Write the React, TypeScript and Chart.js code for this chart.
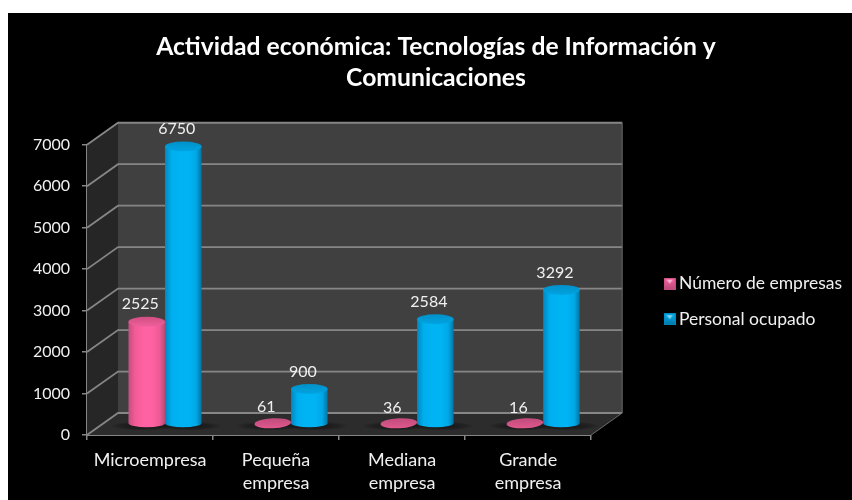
import React, { useEffect, useRef } from "react";
import { Chart, registerables, BarController, BarElement } from "chart.js";

const categories: (string | string[])[] = ["Microempresa", ["Pequeña", "empresa"], ["Mediana", "empresa"], ["Grande", "empresa"]];
const seriesNames = ["Número de empresas", "Personal ocupado"];
const empresas = [2525, 61, 36, 16];
const personal = [6750, 900, 2584, 3292];
const PINK = "#ff5f9e";
const BLUE = "#00b0f0";
const FONT = "Lato";

// Depth of the pseudo-3D box, in pixels
const WALL_DX = 31;
const WALL_DY = -22;
const BAR_DX = 15;
const BAR_DY = -8.6;

const shades: Record<string, { body: string[]; cap: string[]; disc: string[] }> = {
  [PINK]: {
    body: ["#c24e7e", "#f25b96", "#ff62a2", "#ff62a2", "#ee5a94", "#b84a78"],
    cap: ["#d04e82", "#f0609a"],
    disc: ["#c04c7c", "#e0588e"],
  },
  [BLUE]: {
    body: ["#0088c0", "#00aeee", "#00b4f4", "#00b4f4", "#00a8e6", "#0074a4"],
    cap: ["#0090c8", "#00a4e2"],
    disc: ["#0090c8", "#00a4e2"],
  },
};

class CylinderElement extends BarElement {
  static id = "cylinder";
  draw(ctx: CanvasRenderingContext2D) {
    const { x, y, base, width } = (this as any).getProps(["x", "y", "base", "width"], true);
    const pal = shades[(this as any).options.backgroundColor] || shades[BLUE];
    const cx = x + BAR_DX;
    const rx = width / 2;
    const ry = 5;
    const bottom = base + BAR_DY - 2.4;
    const top = Math.min(y + BAR_DY, bottom);
    ctx.save();
    const flat = bottom - top < 3;
    if (!flat) {
      const g = ctx.createLinearGradient(cx - rx, 0, cx + rx, 0);
      [0, 0.18, 0.42, 0.65, 0.85, 1].forEach((s, i) => g.addColorStop(s, pal.body[i]));
      ctx.fillStyle = g;
      ctx.beginPath();
      ctx.moveTo(cx - rx, top);
      ctx.lineTo(cx - rx, bottom);
      ctx.ellipse(cx, bottom, rx, 4, 0, Math.PI, 0, true);
      ctx.lineTo(cx + rx, top);
      ctx.closePath();
      ctx.fill();
    }
    const stops = flat ? pal.disc : pal.cap;
    const cg = ctx.createLinearGradient(0, top - ry, 0, top + ry);
    cg.addColorStop(0, stops[0]);
    cg.addColorStop(1, stops[1]);
    ctx.fillStyle = cg;
    ctx.beginPath();
    ctx.ellipse(cx, top, rx, ry, flat ? -0.05 : 0, 0, Math.PI * 2);
    ctx.fill();
    ctx.restore();
  }
}

class CylinderController extends BarController {
  static id = "cylinderBar";
  static defaults = { ...(BarController as any).defaults, dataElementType: "cylinder" };
}

Chart.register(...registerables, CylinderElement as any, CylinderController as any);

const box3d = {
  id: "box3d",
  afterLayout(chart: any) {
    // the legend sits lower than the centre of the canvas in the reference
    const l = chart.legend;
    l.top += 45;
    l.bottom += 45;
  },
  beforeDatasetsDraw(chart: any) {
    const { ctx, chartArea: a, scales } = chart;
    const line = "#868686";
    const y0 = scales.y.getPixelForValue(0);
    const yTop = scales.y.getPixelForValue(7000);
    ctx.save();
    // back wall
    ctx.fillStyle = "#404040";
    ctx.fillRect(a.left + WALL_DX, yTop + WALL_DY, a.right - a.left, y0 - yTop);
    // side wall
    ctx.fillStyle = "#262626";
    ctx.beginPath();
    ctx.moveTo(a.left, yTop);
    ctx.lineTo(a.left + WALL_DX, yTop + WALL_DY);
    ctx.lineTo(a.left + WALL_DX, y0 + WALL_DY);
    ctx.lineTo(a.left, y0);
    ctx.closePath();
    ctx.fill();
    // floor
    ctx.fillStyle = "#2c2c2c";
    ctx.beginPath();
    ctx.moveTo(a.left, y0);
    ctx.lineTo(a.right, y0);
    ctx.lineTo(a.right + WALL_DX, y0 + WALL_DY);
    ctx.lineTo(a.left + WALL_DX, y0 + WALL_DY);
    ctx.closePath();
    ctx.fill();
    // gridlines
    ctx.strokeStyle = line;
    ctx.lineWidth = 1.8;
    scales.y.ticks.forEach((t: any) => {
      const py = scales.y.getPixelForValue(t.value);
      ctx.beginPath();
      ctx.moveTo(a.left, py);
      ctx.lineTo(a.left + WALL_DX, py + WALL_DY);
      ctx.lineTo(a.right + WALL_DX, py + WALL_DY);
      ctx.stroke();
    });
    ctx.lineWidth = 1;
    ctx.strokeStyle = "#6a6a6a";
    ctx.beginPath();
    ctx.moveTo(a.right + WALL_DX, yTop + WALL_DY);
    ctx.lineTo(a.right + WALL_DX, y0 + WALL_DY);
    ctx.lineTo(a.right, y0);
    ctx.stroke();
    // soft shadows on the floor
    chart.data.datasets.forEach((_: any, di: number) => {
      chart.getDatasetMeta(di).data.forEach((el: any) => {
        const cx = el.x + BAR_DX + (di === 0 ? -4 : 6);
        const cy = y0 - 9;
        const rx = el.width * 0.9;
        ctx.save();
        ctx.translate(cx, cy);
        ctx.scale(1, 0.14);
        const g = ctx.createRadialGradient(0, 0, 0, 0, 0, rx);
        g.addColorStop(0, "rgba(0,0,0,0.5)");
        g.addColorStop(0.65, "rgba(0,0,0,0.28)");
        g.addColorStop(1, "rgba(0,0,0,0)");
        ctx.fillStyle = g;
        ctx.beginPath();
        ctx.arc(0, 0, rx, 0, Math.PI * 2);
        ctx.fill();
        ctx.restore();
      });
    });
    ctx.restore();
  },
  afterDatasetsDraw(chart: any) {
    const { ctx } = chart;
    ctx.save();
    ctx.font = `16px ${FONT}`;
    ctx.fillStyle = "#f0f0f0";
    ctx.textAlign = "center";
    ctx.textBaseline = "middle";
    chart.data.datasets.forEach((ds: any, di: number) => {
      chart.getDatasetMeta(di).data.forEach((el: any, i: number) => {
        ctx.fillText(String(ds.data[i]), el.x + BAR_DX - 6.5, el.y + BAR_DY - 17.5);
      });
    });
    ctx.restore();
  },
};

function marker(color: string) {
  const c = document.createElement("canvas");
  c.width = 12;
  c.height = 12;
  const x = c.getContext("2d")!;
  const pal = shades[color];
  x.fillStyle = pal.body[0];
  x.fillRect(0, 0, 12, 12);
  const g = x.createLinearGradient(0, 0, 0, 12);
  g.addColorStop(0, pal.body[2]);
  g.addColorStop(1, pal.body[5]);
  x.fillStyle = g;
  x.fillRect(1, 1, 10, 10);
  x.fillStyle = "rgba(255,255,255,0.55)";
  x.beginPath();
  x.moveTo(3, 2);
  x.lineTo(9, 2);
  x.lineTo(6, 6);
  x.fill();
  return c;
}

export default function App() {
  const ref = useRef<HTMLCanvasElement>(null);
  useEffect(() => {
    const markers = [marker(PINK), marker(BLUE)];
    const chart = new Chart(ref.current!, {
      type: "cylinderBar" as any,
      data: {
        labels: categories as any,
        datasets: [
          { label: seriesNames[0], data: empresas, backgroundColor: PINK, clip: false as any },
          { label: seriesNames[1], data: personal, backgroundColor: BLUE, clip: false as any },
        ],
      },
      plugins: [box3d],
      options: {
        responsive: false,
        animation: false,
        events: [],
        layout: { padding: { left: 12, right: 0, top: 0, bottom: 0 } },
        datasets: { cylinderBar: { barPercentage: 1, categoryPercentage: 0.58 } } as any,
        scales: {
          x: {
            type: "category",
            offset: true,
            grid: { display: true, drawOnChartArea: false, drawTicks: true, tickLength: 5, color: "#868686", lineWidth: 1.5 },
            border: { display: true, color: "#868686", width: 2 },
            ticks: {
              color: "#f0f0f0",
              font: { family: FONT, size: 18, lineHeight: 1.28 },
              padding: 9,
              maxRotation: 0,
              autoSkip: false,
            },
            afterFit(s: any) { s.height = 65; },
          },
          y: {
            type: "linear",
            min: 0,
            max: 7000,
            ticks: { stepSize: 1000, color: "#f0f0f0", font: { family: FONT, size: 16 }, padding: 12, callback: (v: any) => String(v) },
            grid: { display: true, drawOnChartArea: false, drawTicks: true, tickLength: 5, color: "#868686", lineWidth: 1.5 },
            border: { display: true, color: "#868686", width: 1.5 },
            afterFit(s: any) { s.width = 67; },
          },
          spacer: {
            type: "linear",
            position: "right",
            display: true,
            grid: { display: false },
            border: { display: false },
            ticks: { display: false },
            afterFit(s: any) { s.width = 60; },
          },
        } as any,
        plugins: {
          title: {
            display: true,
            text: ["Actividad económica: Tecnologías de Información y", "Comunicaciones"],
            color: "#ffffff",
            font: { family: FONT, size: 24.7, weight: "bold", lineHeight: 1.27 },
            padding: { top: 18, bottom: 51 },
          },
          legend: {
            display: true,
            position: "right",
            maxWidth: 260,
            labels: {
              color: "#f0f0f0",
              font: { family: FONT, size: 17.5 },
              usePointStyle: true,
              pointStyleWidth: 1,
              padding: 18,
              generateLabels(c: any) {
                return (Chart.defaults.plugins.legend.labels as any).generateLabels(c).map((l: any, i: number) => ({ ...l, pointStyle: markers[i] }));
              },
            },
          },
          tooltip: { enabled: false },
        },
      } as any,
    });
    return () => chart.destroy();
  }, []);
  return (
    <div style={{ position: "absolute", left: 8, top: 13, width: 844, height: 487, background: "#000", overflow: "hidden" }}>
      <canvas ref={ref} width={844} height={487} style={{ display: "block" }} />
    </div>
  );
}
